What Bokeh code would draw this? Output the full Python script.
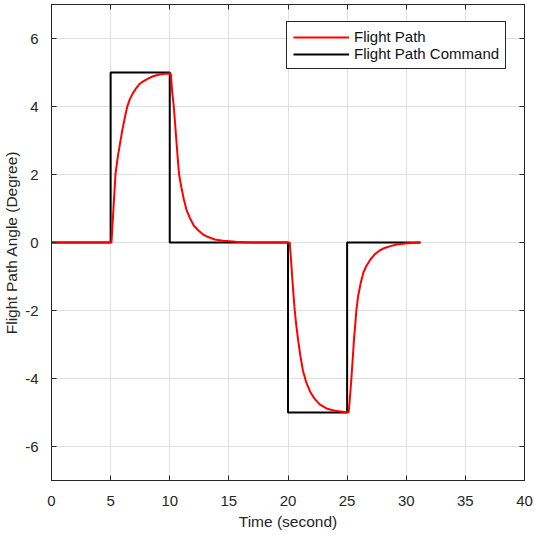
from bokeh.plotting import figure
from bokeh.models import (Range1d, SingleIntervalTicker, LinearAxis, Legend, LegendItem,
                          CustomJSTickFormatter)
from bokeh.embed import file_html
from bokeh.resources import INLINE

# ---- data ----
cmd_t = [0, 5, 5, 10, 10, 20, 20, 25, 25, 31.2]
cmd_v = [0, 0, 5, 5, 0, 0, -5, -5, 0, 0]

path_t = [0, 5.0, 5.07, 5.24, 5.41, 5.56, 5.64, 5.78, 5.97, 6.2, 6.4, 6.62, 6.9, 7.19,
          7.47, 7.75, 8.17, 8.59, 9.16, 9.58, 10.0,
          10.09, 10.2, 10.34, 10.48, 10.65, 10.79, 10.99, 11.19, 11.41, 11.69, 12.03,
          12.4, 12.82, 13.25, 13.81, 14.5, 15.6, 17.0, 20.0,
          20.15, 20.29, 20.43, 20.57, 20.71, 20.85, 21.05, 21.27, 21.56, 21.92, 22.26,
          22.68, 23.25, 23.95, 24.94, 25.13,
          25.25, 25.36, 25.47, 25.58, 25.7, 25.78, 25.93, 26.15, 26.37, 26.63, 26.97,
          27.33, 27.75, 28.17, 28.74, 29.3, 30.15, 31.2]
path_v = [0, 0, 0.0, 1.0, 2.0, 2.4, 2.59, 2.88, 3.27, 3.67, 3.99, 4.21, 4.4, 4.55,
          4.67, 4.74, 4.82, 4.89, 4.94, 4.96, 4.97,
          4.96, 4.45, 4.0, 3.37, 2.59, 2.0, 1.61, 1.27, 0.97, 0.73, 0.5,
          0.36, 0.235, 0.16, 0.09, 0.05, 0.02, 0.0, 0.0,
          -0.01, -0.69, -1.38, -2.0, -2.46, -2.85, -3.34, -3.78, -4.13, -4.42, -4.6,
          -4.76, -4.88, -4.95, -4.99, -4.99,
          -4.52, -4.0, -3.44, -2.85, -2.36, -2.0, -1.58, -1.19, -0.89, -0.69, -0.5,
          -0.35, -0.235, -0.16, -0.1, -0.05, -0.02, 0.0]

x_lim = (0, 40)
y_lim = (-7, 7)
x_step = 5
y_step = 2
x_label = "Time (second)"
y_label = "Flight Path Angle (Degree)"
legend_labels = ["Flight Path", "Flight Path Command"]

AX = "#262626"
FONT = "Liberation Sans"

p = figure(frame_width=473, frame_height=476, output_backend="svg", toolbar_location=None,
           x_range=Range1d(*x_lim), y_range=Range1d(*y_lim),
           min_border_left=42, min_border_right=11, min_border_top=1, min_border_bottom=48)
p.background_fill_color = "white"
p.border_fill_color = "white"
p.outline_line_color = AX
p.outline_line_width = 1

hyphen_fmt = "return tick.toString();"

def style_axis(ax, ticker, labels=True):
    ax.ticker = ticker
    ax.axis_line_color = AX
    ax.axis_line_width = 1
    ax.major_tick_line_color = AX
    ax.major_tick_in = 5
    ax.major_tick_out = 0
    ax.minor_tick_line_color = None
    ax.major_label_text_color = AX
    ax.major_label_text_font = FONT
    ax.major_label_text_font_size = "15px"
    ax.axis_label_text_font = FONT
    ax.axis_label_text_font_size = "15.5px"
    ax.axis_label_text_font_style = "normal"
    ax.axis_label_text_color = AX
    if labels:
        ax.formatter = CustomJSTickFormatter(code=hyphen_fmt)
    else:
        ax.formatter = CustomJSTickFormatter(code="return '';")
        ax.major_label_text_font_size = "1px"
        ax.major_label_standoff = 0

xt = SingleIntervalTicker(interval=x_step)
yt = SingleIntervalTicker(interval=y_step)

style_axis(p.xaxis[0], xt)
p.xaxis[0].axis_label = x_label
p.xaxis[0].major_label_standoff = 11
p.xaxis[0].axis_label_standoff = 4

style_axis(p.yaxis[0], yt)
p.yaxis[0].axis_label = y_label
p.yaxis[0].major_label_standoff = 9
p.yaxis[0].axis_label_standoff = 2

top_ax = LinearAxis()
style_axis(top_ax, SingleIntervalTicker(interval=x_step), labels=False)
p.add_layout(top_ax, "above")
right_ax = LinearAxis()
style_axis(right_ax, SingleIntervalTicker(interval=y_step), labels=False)
p.add_layout(right_ax, "right")

p.xgrid.ticker = xt
p.ygrid.ticker = yt
p.xgrid.grid_line_color = "#dfdfdf"
p.ygrid.grid_line_color = "#dfdfdf"

r_cmd = p.line(cmd_t, cmd_v, line_color="black", line_width=2)
r_path = p.line(path_t, path_v, line_color="#ff0000", line_width=2, line_join="round")

legend = Legend(items=[LegendItem(label=legend_labels[0], renderers=[r_path]),
                       LegendItem(label=legend_labels[1], renderers=[r_cmd])],
                location=(235, 411))
legend.margin = 0
legend.padding = 6
legend.spacing = 0
legend.label_height = 16
legend.glyph_height = 16
legend.glyph_width = 56
legend.label_standoff = 5
legend.label_text_font = FONT
legend.label_text_font_size = "15px"
legend.label_text_color = "#111111"
legend.border_line_color = AX
legend.border_line_alpha = 1
legend.border_line_width = 1
legend.background_fill_color = "white"
legend.background_fill_alpha = 1
p.add_layout(legend)

open("out.html", "w").write(file_html(p, INLINE))
